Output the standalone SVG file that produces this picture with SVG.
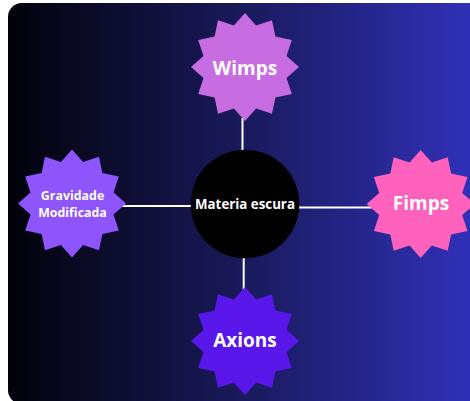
<svg xmlns="http://www.w3.org/2000/svg" width="470" height="401" viewBox="0 0 470 401">
  <defs>
    <linearGradient id="bg" x1="0" y1="0" x2="1" y2="0">
      <stop offset="0" stop-color="#02020a"/>
      <stop offset="0.5" stop-color="#1a1a5e"/>
      <stop offset="1" stop-color="#3232bf"/>
    </linearGradient>
    <polygon id="star" points="0,-54 11.1,-41.5 27,-46.8 30.4,-30.4 46.8,-27 41.5,-11.1 54,0 41.5,11.1 46.8,27 30.4,30.4 27,46.8 11.1,41.5 0,54 -11.1,41.5 -27,46.8 -30.4,30.4 -46.8,27 -41.5,11.1 -54,0 -41.5,-11.1 -46.8,-27 -30.4,-30.4 -27,-46.8 -11.1,-41.5"/>
  </defs>
  <style>
    .lbl { font-family: "Open Sans", "Noto Sans", sans-serif; font-weight: bold; fill: #ffffff; text-anchor: middle; }
    .big { font-size: 19px; }
    .small { font-size: 12.4px; }
    .mid { font-size: 13.3px; }
    .conn { stroke: #ffffff; stroke-width: 2; fill: none; }
  </style>
  <rect x="0" y="0" width="470" height="401" fill="#ffffff"/>
  <rect x="8" y="3" width="480" height="401" rx="14" ry="14" fill="url(#bg)"/>
  <g id="connectors">
    <line class="conn" x1="242.5" y1="118" x2="242.5" y2="151"/>
    <line class="conn" x1="243.7" y1="257" x2="243.7" y2="290"/>
    <line class="conn" x1="122" y1="206" x2="192" y2="206"/>
    <line class="conn" x1="298" y1="207.5" x2="372" y2="207.5"/>
  </g>
  <g id="wimps">
    <use href="#star" transform="translate(245,67)" fill="#c86ce2"/>
    <text class="lbl big" x="245" y="75">Wimps</text>
  </g>
  <g id="gravidade">
    <use href="#star" transform="translate(72,203.5)" fill="#8e55fd"/>
    <text class="lbl small" x="72.5" y="200">Gravidade</text>
    <text class="lbl small" x="72.5" y="216.5">Modificada</text>
  </g>
  <g id="fimps">
    <use href="#star" transform="translate(420.7,204)" fill="#ff62bc"/>
    <text class="lbl big" x="421" y="210">Fimps</text>
  </g>
  <g id="axions">
    <use href="#star" transform="translate(245,341)" fill="#5a17ea"/>
    <text class="lbl big" x="245" y="347">Axions</text>
  </g>
  <g id="materia">
    <circle cx="245" cy="204" r="54.3" fill="#000000"/>
    <text class="lbl mid" x="245" y="209">Materia escura</text>
  </g>
</svg>
